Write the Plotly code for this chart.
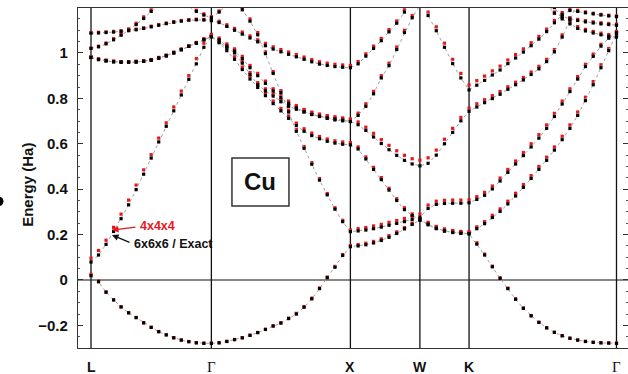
import plotly.graph_objects as go
import numpy as np

# high-symmetry points along the path (path length, units of 2pi/a)
K_LABELS = ["L", "Γ", "X", "W", "K", "Γ"]
K_POINTS = [0.0, 0.8660, 1.8660, 2.3660, 2.7196, 3.7802]
SEG_STEPS = [16, 18, 9, 6, 19]

N = None
# ---- exact / 6x6x6 (black) ----
B1_EX = ([0.019, -0.008, -0.054, -0.088, -0.119, -0.145, -0.166, -0.189, -0.209, -0.228, -0.242, -0.255, -0.265, -0.272, -0.277, -0.279, -0.279]
         + [-0.277, -0.271, -0.263, -0.255, -0.244, -0.232, -0.218, -0.203, -0.19, -0.17, -0.15, -0.12, -0.083, -0.038, 0.01, 0.056, 0.108, 0.147]
         + [0.15, 0.155, 0.163, 0.174, 0.188, 0.205, 0.225, 0.245, 0.264]
         + [0.243, 0.226, 0.215, 0.209, 0.205, 0.203]
         + [0.158, 0.11, 0.058, 0.007, -0.038, -0.085, -0.125, -0.158, -0.187, -0.211, -0.231, -0.246, -0.257, -0.265, -0.271, -0.275, -0.277, -0.278, -0.279])
B2_EX = ([0.079, 0.11, 0.157, 0.214, 0.27, 0.331, 0.398, 0.466, 0.537, 0.608, 0.677, 0.745, 0.815, 0.884, 0.952, 1.025, 1.072]
         + [1.045, 1.01, 0.972, 0.927, 0.885, 0.848, 0.812, 0.777, 0.745, 0.712, 0.68, 0.655, 0.636, 0.622, 0.611, 0.603, 0.598, 0.595]
         + [0.577, 0.533, 0.487, 0.442, 0.396, 0.35, 0.31, 0.284, 0.264]
         + [0.246, 0.228, 0.217, 0.21, 0.206, 0.204]
         + [0.226, 0.248, 0.275, 0.302, 0.335, 0.37, 0.408, 0.447, 0.487, 0.527, 0.572, 0.618, 0.668, 0.725, 0.79, 0.86, 0.935, 1.01, 1.085])
B3_EX = ([0.98, 0.971, 0.965, 0.961, 0.959, 0.959, 0.96, 0.963, 0.968, 0.977, 0.987, 1.0, 1.014, 1.029, 1.043, 1.058, 1.072]
         + [1.058, 1.03, 1.008, 0.975, 0.935, 0.9, 0.866, 0.832, 0.803, 0.778, 0.758, 0.741, 0.729, 0.72, 0.714, 0.709, 0.704, 0.698]
         + [0.684, 0.659, 0.63, 0.601, 0.574, 0.549, 0.527, 0.511, 0.503]
         + [0.514, 0.55, 0.6, 0.65, 0.701, 0.743]
         + [0.762, 0.781, 0.799, 0.818, 0.84, 0.86, 0.881, 0.905, 0.93, 0.962, 1.005, 1.07, 1.145, 1.22, N, N, N, N, N])
B4_EX = ([1.02, 1.027, 1.04, 1.058, 1.078, 1.1, 1.125, 1.152, 1.183, 1.215, 1.25, N, N, N, N, N, N]
         + [N, N, 1.24, 1.19, 1.14, 1.08, 0.997, 0.91, 0.826, 0.74, 0.655, 0.58, 0.51, 0.44, 0.375, 0.312, 0.257, 0.213]
         + [0.216, 0.22, 0.226, 0.233, 0.241, 0.249, 0.257, 0.266, 0.276]
         + [0.315, 0.333, 0.337, 0.338, 0.338, 0.34]
         + [0.355, 0.373, 0.401, 0.436, 0.474, 0.511, 0.548, 0.586, 0.625, 0.668, 0.72, 0.775, 0.83, 0.885, 0.94, 0.985, 1.03, 1.065, 1.09])
B5_EX = ([1.087, 1.088, 1.09, 1.092, 1.095, 1.098, 1.102, 1.108, 1.115, 1.122, 1.129, 1.135, 1.14, 1.144, 1.146, 1.145, 1.142]
         + [1.134, 1.117, 1.1, 1.083, 1.066, 1.049, 1.032, 1.017, 1.005, 0.994, 0.983, 0.972, 0.961, 0.951, 0.945, 0.94, 0.937, 0.935]
         + [0.952, 0.986, 1.02, 1.054, 1.093, 1.131, 1.18, 1.23, 1.26]
         + [1.165, 1.098, 1.025, 0.953, 0.89, 0.837]
         + [0.858, 0.879, 0.903, 0.925, 0.953, 0.978, 1.004, 1.032, 1.061, 1.094, 1.133, 1.17, 1.187, 1.183, 1.177, 1.172, 1.167, 1.163, 1.16])
B6_EX = ([0.98, 0.971, 0.965, 0.961, 0.959, 0.959, 0.96, 0.963, 0.968, 0.977, 0.987, 1.0, 1.014, 1.029, 1.043, 1.058, 1.072]
         + [1.048, 1.025, 1.0, 0.955, 0.905, 0.86, 0.833, 0.81, 0.785, 0.765, 0.752, 0.74, 0.729, 0.721, 0.712, 0.705, 0.701, 0.698]
         + [0.725, 0.765, 0.82, 0.89, 0.944, 1.015, 1.09, 1.155, 1.21]
         + [1.25, N, N, N, N, N]
         + [N, N, N, N, N, N, N, N, N, 1.26, 1.2, 1.15, 1.128, 1.108, 1.097, 1.088, 1.08, 1.074, 1.07])
B7_EX = ([N, N, N, N, N, N, N, N, N, N, N, N, 1.24, 1.205, 1.183, 1.167, 1.155]
         + [1.18, 1.21, N, N, N, N, N, N, N, N, N, N, N, N, N, N, N, N]
         + [N, N, N, N, N, N, N, N, N]
         + [N, N, N, N, N, N]
         + [N, N, N, N, N, N, N, N, N, 1.22, 1.175, 1.16, 1.15, 1.143, 1.137, 1.132, 1.128, 1.125, 1.122])

# ---- 4x4x4 (red) ----
B1_K4 = ([0.025, -0.004, -0.052, -0.087, -0.118, -0.144, -0.165, -0.188, -0.208, -0.227, -0.241, -0.254, -0.264, -0.271, -0.276, -0.278, -0.278]
         + [-0.276, -0.27, -0.262, -0.254, -0.243, -0.231, -0.217, -0.202, -0.188, -0.168, -0.147, -0.117, -0.08, -0.035, 0.013, 0.06, 0.112, 0.152]
         + [0.156, 0.162, 0.17, 0.181, 0.195, 0.212, 0.231, 0.25, 0.268]
         + [0.25, 0.234, 0.223, 0.217, 0.213, 0.211]
         + [0.164, 0.114, 0.061, 0.01, -0.036, -0.083, -0.123, -0.157, -0.186, -0.21, -0.23, -0.245, -0.256, -0.264, -0.27, -0.274, -0.276, -0.277, -0.278])
B2_K4 = ([0.096, 0.13, 0.175, 0.232, 0.29, 0.352, 0.418, 0.485, 0.552, 0.625, 0.692, 0.762, 0.832, 0.9, 0.975, 1.043, 1.082]
         + [1.056, 1.021, 0.983, 0.938, 0.896, 0.859, 0.823, 0.788, 0.756, 0.723, 0.691, 0.666, 0.647, 0.632, 0.621, 0.613, 0.608, 0.605]
         + [0.586, 0.542, 0.496, 0.451, 0.404, 0.358, 0.318, 0.291, 0.27]
         + [0.254, 0.236, 0.225, 0.218, 0.214, 0.212]
         + [0.234, 0.257, 0.285, 0.313, 0.347, 0.382, 0.42, 0.46, 0.5, 0.541, 0.586, 0.633, 0.683, 0.74, 0.805, 0.874, 0.948, 1.02, 1.092])
B3_K4 = ([0.983, 0.974, 0.968, 0.964, 0.962, 0.962, 0.963, 0.966, 0.971, 0.98, 0.99, 1.003, 1.017, 1.032, 1.046, 1.062, 1.078]
         + [1.066, 1.04, 1.018, 0.985, 0.945, 0.91, 0.876, 0.842, 0.813, 0.788, 0.768, 0.751, 0.739, 0.73, 0.724, 0.719, 0.714, 0.708]
         + [0.696, 0.673, 0.646, 0.618, 0.593, 0.569, 0.549, 0.534, 0.528]
         + [0.538, 0.572, 0.62, 0.668, 0.716, 0.757]
         + [0.776, 0.794, 0.812, 0.83, 0.851, 0.871, 0.892, 0.916, 0.941, 0.972, 1.015, 1.08, 1.155, 1.23, N, N, N, N, N])
B4_K4 = ([1.022, 1.03, 1.044, 1.063, 1.084, 1.106, 1.131, 1.159, 1.19, 1.222, 1.257, N, N, N, N, N, N]
         + [N, N, 1.25, 1.2, 1.15, 1.09, 1.005, 0.918, 0.834, 0.748, 0.663, 0.588, 0.517, 0.447, 0.381, 0.318, 0.263, 0.22]
         + [0.226, 0.231, 0.238, 0.245, 0.254, 0.262, 0.271, 0.28, 0.29]
         + [0.33, 0.347, 0.351, 0.352, 0.352, 0.353]
         + [0.367, 0.386, 0.414, 0.449, 0.487, 0.524, 0.561, 0.6, 0.64, 0.683, 0.734, 0.788, 0.842, 0.896, 0.95, 0.995, 1.038, 1.072, 1.095])
B5_K4 = ([1.09, 1.091, 1.093, 1.095, 1.098, 1.101, 1.105, 1.111, 1.118, 1.125, 1.132, 1.138, 1.143, 1.147, 1.149, 1.148, 1.145]
         + [1.14, 1.124, 1.108, 1.092, 1.075, 1.058, 1.042, 1.027, 1.015, 1.004, 0.993, 0.982, 0.971, 0.961, 0.955, 0.95, 0.947, 0.945]
         + [0.962, 0.996, 1.03, 1.064, 1.103, 1.141, 1.19, 1.24, 1.27]
         + [1.18, 1.115, 1.043, 0.972, 0.91, 0.859]
         + [0.878, 0.898, 0.921, 0.942, 0.969, 0.993, 1.018, 1.045, 1.073, 1.105, 1.143, 1.178, 1.193, 1.188, 1.181, 1.175, 1.17, 1.166, 1.163])
B6_K4 = ([0.983, 0.974, 0.968, 0.964, 0.962, 0.962, 0.963, 0.966, 0.971, 0.98, 0.99, 1.003, 1.017, 1.032, 1.046, 1.062, 1.078]
         + [1.056, 1.033, 1.009, 0.964, 0.914, 0.869, 0.842, 0.819, 0.794, 0.774, 0.761, 0.749, 0.738, 0.73, 0.721, 0.714, 0.71, 0.708]
         + [0.735, 0.776, 0.831, 0.9, 0.955, 1.026, 1.1, 1.165, 1.22]
         + [1.26, N, N, N, N, N]
         + [N, N, N, N, N, N, N, N, N, 1.27, 1.21, 1.158, 1.136, 1.116, 1.104, 1.095, 1.087, 1.081, 1.077])
B7_K4 = ([N, N, N, N, N, N, N, N, N, N, N, N, 1.245, 1.21, 1.188, 1.172, 1.16]
         + [1.185, 1.215, N, N, N, N, N, N, N, N, N, N, N, N, N, N, N, N]
         + [N, N, N, N, N, N, N, N, N]
         + [N, N, N, N, N, N]
         + [N, N, N, N, N, N, N, N, N, 1.225, 1.18, 1.165, 1.155, 1.148, 1.142, 1.137, 1.133, 1.13, 1.127])

EXACT = [B1_EX, B2_EX, B3_EX, B4_EX, B5_EX, B6_EX, B7_EX]
K444 = [B1_K4, B2_K4, B3_K4, B4_K4, B5_K4, B6_K4, B7_K4]

# k-path sample positions
kpath = [K_POINTS[0]]
for i, n in enumerate(SEG_STEPS):
    kpath += list(np.linspace(K_POINTS[i], K_POINTS[i + 1], n + 1)[1:])

RED = "#e8161b"
SANS = "Liberation Sans, Arial, sans-serif"

fig = go.Figure()
for band in K444:
    fig.add_trace(go.Scatter(x=kpath, y=band, mode="markers",
                             marker=dict(color=RED, size=3.2, symbol="square"),
                             showlegend=False, hoverinfo="skip"))
for band in EXACT:
    fig.add_trace(go.Scatter(x=kpath, y=band, mode="lines+markers",
                             line=dict(color="#a0a0a0", width=1, dash="dot"),
                             marker=dict(color="#000000", size=3.2, symbol="square"),
                             showlegend=False, hoverinfo="skip"))

# vertical lines at high-symmetry points, horizontal line at E=0
shapes = []
for kp in K_POINTS:
    shapes.append(dict(type="line", xref="x", yref="paper", x0=kp, x1=kp, y0=0, y1=1,
                       line=dict(color="#111111", width=1.3), layer="below"))
shapes.append(dict(type="line", xref="paper", yref="y", x0=0, x1=1, y0=0, y1=0,
                   line=dict(color="#111111", width=1.1), layer="below"))
# Cu label box
shapes.append(dict(type="rect", xref="x", yref="y", x0=1.014, x1=1.424, y0=0.326, y1=0.537,
                   line=dict(color="#333333", width=1.5), fillcolor="white"))
# stray bullet at far left edge
shapes.append(dict(type="circle", xref="paper", yref="paper", x0=-0.1518, x1=-0.1355,
                   y0=0.4176, y1=0.4450, fillcolor="black", line=dict(width=0)))

ann = []
for lab, kp in zip(K_LABELS, K_POINTS):
    if lab == "Γ":
        f = dict(family="Liberation Serif, DejaVu Serif, serif", size=15, color="#111")
        txt = lab
    else:
        f = dict(family=SANS, size=14, color="#111")
        txt = "<b>" + lab + "</b>"
    ann.append(dict(x=kp, y=-0.055, xref="x", yref="paper", text=txt, showarrow=False,
                    font=f, xanchor="center", yanchor="middle"))
ann.append(dict(x=-0.0909, y=0.48, xref="paper", yref="paper", text="<b>Energy (Ha)</b>",
                textangle=-90, showarrow=False, xanchor="center", yanchor="middle",
                font=dict(family=SANS, size=15, color="#111")))
ann.append(dict(x=1.219, y=0.432, xref="x", yref="y", text="<b>Cu</b>", showarrow=False,
                font=dict(family=SANS, size=24, color="#111")))
# arrows
ann.append(dict(x=0.151, y=0.220, xref="x", yref="y", ax=25, ay=-3, text="", showarrow=True,
                arrowhead=2, arrowsize=1, arrowwidth=1.3, arrowcolor=RED))
ann.append(dict(x=0.151, y=0.198, xref="x", yref="y", ax=19, ay=8, text="", showarrow=True,
                arrowhead=2, arrowsize=1, arrowwidth=1.3, arrowcolor="#111"))
ann.append(dict(x=0.338, y=0.239, xref="x", yref="y", text="<b>4x4x4</b>", showarrow=False,
                xanchor="left", yanchor="middle",
                font=dict(family=SANS, size=12.5, color=RED)))
ann.append(dict(x=0.295, y=0.159, xref="x", yref="y", text="<b>6x6x6 / Exact</b>", showarrow=False,
                xanchor="left", yanchor="middle",
                font=dict(family=SANS, size=12.5, color="#111")))

fig.update_layout(
    width=628, height=374,
    margin=dict(l=78, r=0, t=8, b=26, autoexpand=False),
    paper_bgcolor="white", plot_bgcolor="white",
    shapes=shapes, annotations=ann,
    font=dict(family=SANS, size=13, color="#111"),
)
fig.update_xaxes(range=[-0.0935, 3.863], showgrid=False, zeroline=False, showticklabels=False,
                 ticks="", showline=True, linecolor="#333", linewidth=1.3, mirror=True)
fig.update_yaxes(range=[-0.2996, 1.198], showgrid=False, zeroline=False,
                 tickvals=[-0.2, 0, 0.2, 0.4, 0.6, 0.8, 1.0],
                 ticktext=["<b>−0.2</b>", "<b>0</b>", "<b>0.2</b>", "<b>0.4</b>", "<b>0.6</b>", "<b>0.8</b>", "<b>1</b>"],
                 ticks="inside", ticklen=5, tickwidth=1, tickcolor="#333",
                 minor=dict(ticks="inside", ticklen=2, dtick=0.05, tick0=0, tickcolor="#555"),
                 showline=True, linecolor="#333", linewidth=1.3, mirror="allticks",
                 tickfont=dict(size=15), ticklabelstandoff=6)

fig.write_html("out.html", config={"displayModeBar": False},
               post_script="document.body.style.margin='0px';document.body.style.overflow='hidden';")
